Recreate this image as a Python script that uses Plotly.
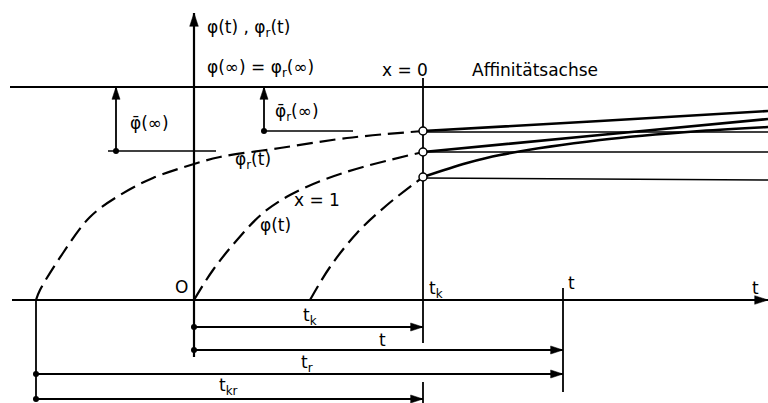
import plotly.graph_objects as go

# drawing units: origin O at t = 0 / phi = 0, roughly 1 unit per pixel
t_k = 229          # line x = 0 (Affinitaetsachse)
t_now = 369        # time t
t_r0 = -158        # start of phi_r(t)
phi_inf = 213      # phi(inf) = phi_r(inf)
phi_bar_r = 169    # level of phi_r at t_k
phi_bar = 149      # level of phi-bar(inf) marker

# dashed parts (t < t_k)
phi_r_t = [-158, -154, -131, -104, -74, -41, 0, 26, 86, 153, 229]
phi_r_v = [0, 10, 47, 83, 105, 122, 136, 143, 152, 162, 169]

phi_t = [0, 19, 43, 69, 96, 129, 169, 229]
phi_v = [0, 30, 60, 87, 105, 120, 133, 148]

phi_k_t = [116, 136, 163, 193, 229]
phi_k_v = [0, 33, 67, 95, 123]

# solid parts (t > t_k)
sol_r_t = [229, 406, 574]
sol_r_v = [169, 179, 189]
sol_1_t = [229, 406, 574]
sol_1_v = [148, 165, 181]
sol_0_t = [229, 273, 306, 406, 506, 574]
sol_0_v = [123, 137, 145, 160, 169, 173]

# thin horizontals from the circles
hor_v = [168, 148, 122]
hor_end = [168, 148, 120]

font = dict(family="DejaVu Sans", size=17, color="black")

fig = go.Figure()

def line(xs, ys, width=1.5, dash=None, shape="linear"):
    fig.add_trace(go.Scatter(
        x=xs, y=ys, mode="lines",
        line=dict(color="black", width=width, dash=dash, shape=shape),
        hoverinfo="skip"
    ))

def arrow(x0, y0, x1, y1, width=2, head=13):
    # shaft as a plain line, head as an arrow marker pointing along it
    line([x0, x1], [y0, y1], width=width)
    fig.add_trace(go.Scatter(
        x=[x0, x1], y=[y0, y1], mode="markers",
        marker=dict(symbol="arrow", angleref="previous", size=[0, head],
                    color="black", opacity=1,
                    line=dict(color="black", width=0.5)),
        hoverinfo="skip"
    ))

# asymptote phi(inf)
line([-184, 574], [phi_inf, phi_inf], width=2.2)

# verticals
line([t_k, t_k], [222, -43], width=1.8)
line([t_k, t_k], [-82, -103], width=1.8)
line([t_now, t_now], [12, -92], width=1.8)
line([t_r0, t_r0], [0, -100], width=1.8)

# phi-bar markers
line([-86, 22], [phi_bar, phi_bar], width=1.6)
line([70, 159], [phi_bar_r, phi_bar_r], width=1.6)

# thin horizontals
for a, b in zip(hor_v, hor_end):
    line([t_k, 574], [a, b], width=1.5)

# dashed curves
dash = "16px,7px"
line(phi_r_t, phi_r_v, width=2.2, dash=dash, shape="spline")
line(phi_t, phi_v, width=2.2, dash=dash, shape="spline")
line(phi_k_t, phi_k_v, width=2.2, dash=dash, shape="spline")

# solid curves
line(sol_r_t, sol_r_v, width=2.6, shape="spline")
line(sol_1_t, sol_1_v, width=2.6, shape="spline")
line(sol_0_t, sol_0_v, width=2.6, shape="spline")

# open circles at x = 0
fig.add_trace(go.Scatter(
    x=[t_k, t_k, t_k], y=[phi_r_v[-1], phi_v[-1], phi_k_v[-1]],
    mode="markers",
    marker=dict(symbol="circle", size=8, color="white",
                line=dict(color="black", width=1.5)),
    hoverinfo="skip"
))

# axes
arrow(0, -57, 0, 287, width=2.2, head=14)
arrow(-182, 0, 574, 0, width=2.2, head=14)

# phi-bar arrows
arrow(-78, phi_bar, -78, phi_inf, width=1.8)
arrow(70, phi_bar_r, 70, phi_inf, width=1.8)

# dimension lines: (start, end, level)
dims = [(0, t_k, -27), (0, t_now, -50), (t_r0, t_now, -74), (t_r0, t_k, -99)]
for a, b, lv in dims:
    arrow(a, lv, b, lv, width=1.8)

dot_x = [d[0] for d in dims] + [-78, 70]
dot_y = [d[2] for d in dims] + [phi_bar, phi_bar_r]
fig.add_trace(go.Scatter(
    x=dot_x, y=dot_y, mode="markers",
    marker=dict(size=6, color="black"), hoverinfo="skip"
))

labels = [
    (11, 272, "φ(t) , φ<sub>r</sub>(t)", "left"),
    (11, 232, "φ(∞) = φ<sub>r</sub>(∞)", "left"),
    (186, 230, "x = 0", "left"),
    (276, 230, "Affinitätsachse", "left"),
    (-66, 177, "φ\u0304(∞)", "left"),
    (79, 188, "φ\u0304<sub>r</sub>(∞)", "left"),
    (39, 140, "φ<sub>r</sub>(t)", "left"),
    (98, 100, "x = 1", "left"),
    (64, 75, "φ(t)", "left"),
    (-4, 13, "O", "right"),
    (233, 11, "t<sub>k</sub>", "left"),
    (372, 17, "t", "left"),
    (567, 12, "t", "right"),
    (116, -16, "t<sub>k</sub>", "center"),
    (188, -40, "t", "center"),
    (113, -63, "t<sub>r</sub>", "center"),
    (34, -86, "t<sub>kr</sub>", "center"),
]
for x, y, txt, anc in labels:
    fig.add_annotation(x=x, y=y, text=txt, showarrow=False, xanchor=anc,
                       yanchor="middle", font=font)

fig.update_layout(
    width=768, height=403,
    margin=dict(l=0, r=0, t=0, b=0),
    paper_bgcolor="white", plot_bgcolor="white",
    showlegend=False,
    xaxis=dict(range=[-194, 574], visible=False, fixedrange=True),
    yaxis=dict(range=[-103, 300], visible=False, fixedrange=True),
)

fig.write_html("out.html", config={"displayModeBar": False},
               post_script="document.body.style.margin='0';")
